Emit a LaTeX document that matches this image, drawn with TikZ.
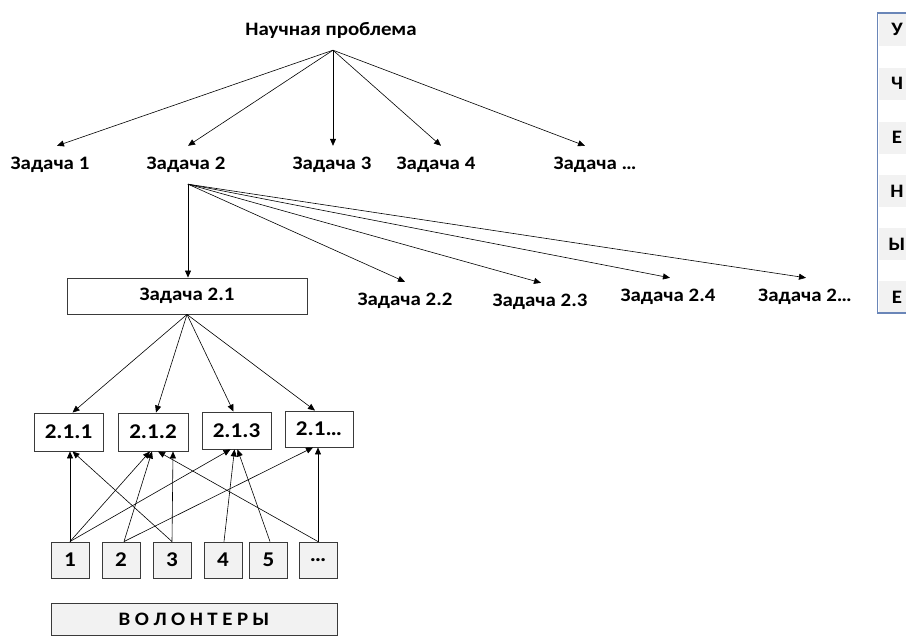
\documentclass[tikz,border=0pt]{standalone}
\usepackage{fontspec}
\setmainfont{Carlito}[FakeStretch=1.1]
\usetikzlibrary{arrows.meta}
\definecolor{boxgray}{HTML}{F2F2F2}
\definecolor{edgegray}{HTML}{3A3A3A}
\definecolor{sideblue}{HTML}{6A86B8}
\begin{document}
\begin{tikzpicture}[x=1pt,y=-1pt,
  lbl/.style={font=\bfseries\fontsize{19}{21}\selectfont, text height=12pt, text depth=3pt, inner xsep=2pt, inner ysep=11.5pt},
  tbox/.style={draw=edgegray, line width=0.9pt, fill=white, font=\bfseries\fontsize{19}{21}\selectfont, inner sep=0pt, align=center},
  numtext/.style={font=\bfseries\fontsize{21}{23}\selectfont},
  nbox/.style={draw=edgegray, line width=0.9pt, fill=boxgray, font=\bfseries\fontsize{21}{23}\selectfont, inner sep=0pt, minimum width=38pt, minimum height=36pt},
  arr/.style={-{Triangle[length=7pt,width=6pt]}, line width=0.6pt, black},
  cell/.style={fill=boxgray, draw=none},
  letter/.style={font=\bfseries\fontsize{19}{21}\selectfont, inner sep=0pt}
]
\useasboundingbox (0,0) rectangle (906,636);

% top level
\node[lbl] (top) at (331,31) {Научная проблема};
\node[lbl] (t1) at (50,165) {Задача 1};
\node[lbl] (t2) at (186,165) {Задача 2};
\node[lbl] (t3) at (332,165) {Задача 3};
\node[lbl] (t4) at (436,165) {Задача 4};
\node[lbl] (t5) at (595,165) {Задача …};

\draw[arr] ([xshift=2pt]top.south) -- ([xshift=7pt]t1.north);
\draw[arr] ([xshift=2pt]top.south) -- ([xshift=2pt]t2.north);
\draw[arr] ([xshift=2pt]top.south) -- ([xshift=1pt]t3.north);
\draw[arr] ([xshift=2pt]top.south) -- ([xshift=5pt]t4.north);
\draw[arr] ([xshift=2pt]top.south) -- ([xshift=-10pt]t5.north);

% second level
\node[tbox, minimum width=240pt, minimum height=36pt] (b21) at (187,296) {Задача 2.1};
\node[lbl] (s2) at (405,301) {Задача 2.2};
\node[lbl] (s3) at (540,302) {Задача 2.3};
\node[lbl] (s4) at (668,297) {Задача 2.4};
\node[lbl] (s5) at (805,297) {Задача 2…};

\draw[arr] ([xshift=2pt]t2.south) -- ([xshift=1pt]b21.north);
\draw[arr] ([xshift=2pt]t2.south) -- (s2.north);
\draw[arr] ([xshift=2pt]t2.south) -- ([xshift=1pt]s3.north);
\draw[arr] ([xshift=2pt]t2.south) -- ([xshift=2pt]s4.north);
\draw[arr] ([xshift=2pt]t2.south) -- ([xshift=1pt]s5.north);

% third level
\node[tbox, numtext, minimum width=69pt, minimum height=38pt] (c1) at (68.5,432) {2.1.1};
\node[tbox, numtext, minimum width=70pt, minimum height=38pt] (c2) at (153,432) {2.1.2};
\node[tbox, numtext, minimum width=69pt, minimum height=37pt] (c3) at (236.5,430.5) {2.1.3};
\node[tbox, numtext, minimum width=68pt, minimum height=36pt] (c4) at (319,429) {2.1…};

\draw[arr] (b21.south) -- ([xshift=4pt]c1.north);
\draw[arr] (b21.south) -- ([xshift=3pt]c2.north);
\draw[arr] (b21.south) -- ([xshift=-3pt]c3.north);
\draw[arr] (b21.south) -- ([xshift=-4pt]c4.north);

% volunteers
\node[nbox] (v1) at (70,560) {1};
\node[nbox] (v2) at (121,560) {2};
\node[nbox] (v3) at (172,560) {3};
\node[nbox] (v4) at (223,560) {4};
\node[nbox] (v5) at (268.5,560) {5};
\node[nbox] (v6) at (318,560) {…};

\draw[arr] (v1.north) -- ([xshift=1.5pt]c1.south);
\draw[arr] (v1.north) -- ([xshift=-3pt]c2.south);
\draw[arr] (v1.north) -- ([xshift=-6pt]c3.south);
\draw[arr] ([xshift=3pt]v2.north) -- ([xshift=-1pt]c2.south);
\draw[arr] ([xshift=3pt]v2.north) -- ([xshift=-6pt]c4.south);
\draw[arr] (v3.north) -- ([xshift=4pt]c1.south);
\draw[arr] (v3.north) -- ([xshift=20pt]c2.south);
\draw[arr] ([xshift=1pt]v4.north) -- ([xshift=-2pt]c3.south);
\draw[arr] ([xshift=1.5pt]v5.north) -- ([xshift=1pt]c3.south);
\draw[arr] (v6.north) -- ([xshift=-1pt]c4.south);
\draw[arr] (v6.north) -- ([xshift=5pt]c2.south);

\node[nbox, font=\bfseries\fontsize{19}{21}\selectfont, minimum width=286pt, minimum height=32pt] (vol) at (194,619) {В\hspace{4.5pt}О\hspace{4.5pt}Л\hspace{4.5pt}О\hspace{4.5pt}Н\hspace{4.5pt}Т\hspace{4.5pt}Е\hspace{4.5pt}Р\hspace{4.5pt}Ы};

% side box
\foreach \yy in {30,84,138,191,244,297} {
  \fill[cell] (878.5,\yy-16) rectangle (906,\yy+16);
}
\node[letter] (l1) at (897,29) {У};
\node[letter] (l2) at (897,83) {Ч};
\node[letter] (l3) at (897,137) {Е};
\node[letter] (l4) at (897,191) {Н};
\node[letter] (l5) at (897,244) {Ы};
\node[letter] (l6) at (897,297) {Е};
\draw[sideblue, line width=1.2pt] (920,13) -- (877.5,13) -- (877.5,313) -- (920,313);
\end{tikzpicture}
\end{document}
